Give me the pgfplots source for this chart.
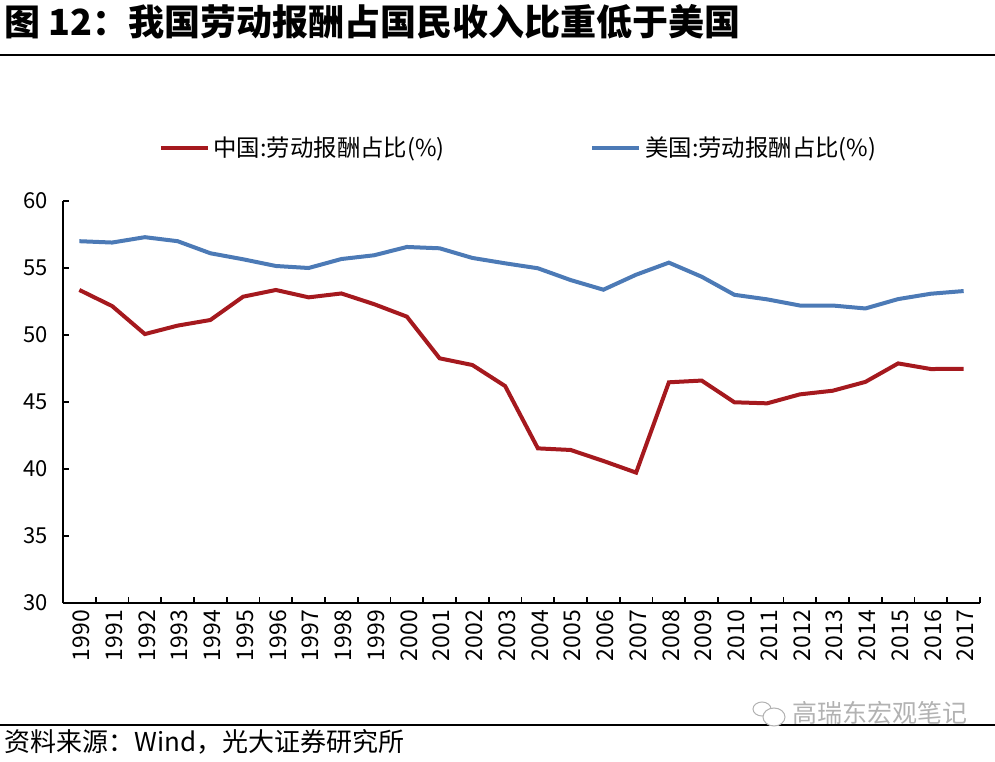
\documentclass[border=0pt]{standalone}
\usepackage{fontspec}
\setmainfont{Noto Sans CJK SC}
\usepackage{pgfplots}
\pgfplotsset{compat=1.18}
\definecolor{cnred}{RGB}{165,25,30}
\definecolor{usblue}{RGB}{76,122,182}
\begin{document}
\begin{tikzpicture}[x=0.5pt,y=0.5pt]
\path[use as bounding box] (0,0) rectangle (995,761);
\node[anchor=west,inner sep=0pt,font=\fontsize{18}{21}\selectfont\bfseries] at (4,739) {图 12：我国劳动报酬占国民收入比重低于美国};
\draw[line width=1pt] (0,706) -- (995,706);
\begin{axis}[
  at={(31.5pt,79pt)}, anchor=south west,
  scale only axis, width=458.5pt, height=201pt,
  xmin=-0.5, xmax=27.5, ymin=30, ymax=60,
  axis x line*=bottom, axis y line*=left,
  axis line style={-, line width=0.8pt, black},
  ytick={30,35,...,60},
  xtick={0,...,27},
  xticklabels={1990,1991,1992,1993,1994,1995,1996,1997,1998,1999,2000,2001,2002,2003,2004,2005,2006,2007,2008,2009,2010,2011,2012,2013,2014,2015,2016,2017},
  minor xtick={-0.5,0.5,...,27.5},
  every major x tick/.append style={draw=none},
  major tick length=3pt, minor tick length=3pt,
  tick style={line width=0.8pt, black},
  /pgf/number format/assume math mode=true,
  tick label style={font=\fontsize{11}{13}\selectfont},
  x tick label style={rotate=90, anchor=east, yshift=-1pt, font=\fontsize{11.5}{13}\selectfont},
  y tick label style={xshift=-4pt},
  legend columns=2,
  legend style={draw=none, fill=none, at={(0.498,1.132)}, anchor=center,
    font=\fontsize{11.7}{14}\selectfont,
    /tikz/every even column/.append style={column sep=71pt}},
  legend image code/.code={\draw[#1, line width=1.8pt] (0pt,0pt) -- (23.5pt,0pt);},
]
\addplot[cnred, line width=2pt] coordinates {
(0,53.36) (1,52.16) (2,50.07) (3,50.7) (4,51.12) (5,52.86) (6,53.36) (7,52.81) (8,53.1) (9,52.3)
(10,51.37) (11,48.26) (12,47.76) (13,46.19) (14,41.54) (15,41.42) (16,40.6) (17,39.73) (18,46.47) (19,46.6)
(20,44.98) (21,44.9) (22,45.57) (23,45.84) (24,46.5) (25,47.88) (26,47.46) (27,47.48)};
\addlegendentry{中国:劳动报酬占比(\%)}
\addplot[usblue, line width=2pt] coordinates {
(0,57.0) (1,56.9) (2,57.3) (3,57.0) (4,56.1) (5,55.65) (6,55.15) (7,55.0) (8,55.67) (9,55.95)
(10,56.57) (11,56.47) (12,55.75) (13,55.35) (14,54.98) (15,54.1) (16,53.38) (17,54.5) (18,55.4) (19,54.35)
(20,53.0) (21,52.66) (22,52.2) (23,52.2) (24,51.98) (25,52.68) (26,53.08) (27,53.28)};
\addlegendentry{美国:劳动报酬占比(\%)}
\end{axis}
\draw[line width=1pt] (0,36) -- (995,36);
\draw[gray!60, line width=0.5pt, fill=white] (762,52) ellipse (9 and 7);
\draw[gray!60, line width=0.5pt, fill=white] (774,44) ellipse (11 and 9);
\node[anchor=west,inner sep=0pt,text=gray!60,font=\fontsize{12.5}{15}\selectfont] at (792,48) {高瑞东宏观笔记};
\node[anchor=west,inner sep=0pt,font=\fontsize{13}{15}\selectfont] at (4,19) {资料来源：Wind，光大证券研究所};
\end{tikzpicture}
\end{document}
